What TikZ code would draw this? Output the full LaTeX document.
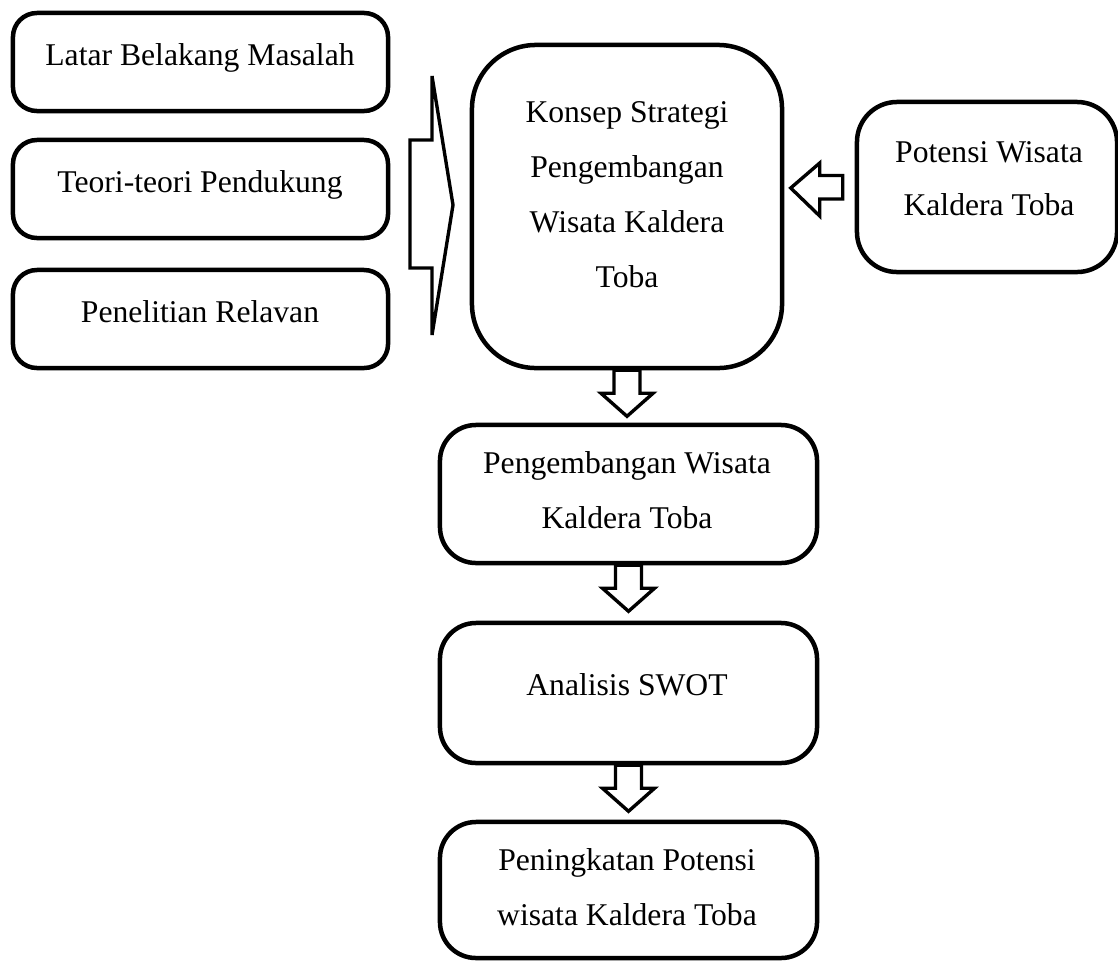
\documentclass[tikz,border=0pt]{standalone}
\usepackage{fontspec}
\setmainfont{Liberation Serif}
\begin{document}
\begin{tikzpicture}[x=0.025cm, y=-0.025cm,
    box/.style={draw, line width=3.2pt, inner sep=0pt},
    txt/.style={font=\fontsize{22.5}{39}\selectfont, align=center, anchor=base, inner sep=0pt},
    blockarrow/.style={draw, line width=2.4pt, line join=miter, fill=white}]
    \useasboundingbox (0,0) rectangle (1118,961);

    % the three boxes on the left
    \node[box, rounded corners=0.6cm, minimum width=9.375cm, minimum height=2.45cm] (latar) at (200.5,62) {};
    \node[txt] (latartext) at (200,65) {Latar Belakang Masalah};
    \node[box, rounded corners=0.6cm, minimum width=9.375cm, minimum height=2.45cm] (teori) at (200.5,189) {};
    \node[txt] (teoritext) at (200,192) {Teori-teori Pendukung};
    \node[box, rounded corners=0.6cm, minimum width=9.375cm, minimum height=2.45cm] (relevan) at (200.5,319) {};
    \node[txt] (relevantext) at (200,322) {Penelitian Relavan};

    % the concept box in the middle (text placed by its last line)
    \node[box, rounded corners=1.6cm, minimum width=7.75cm, minimum height=8.075cm] (konsep) at (627,206.5) {};
    \node[txt] (konseptext) at (627,287) {Konsep Strategi\\ Pengembangan\\ Wisata Kaldera\\ Toba};

    % the potential box on the right
    \node[box, rounded corners=1cm, minimum width=6.5cm, minimum height=4.25cm] (potensi) at (987,187) {};
    \node[txt, font=\fontsize{22.5}{37}\selectfont] (potensitext) at (989,215) {Potensi Wisata\\ Kaldera Toba};

    % the chain of boxes below
    \node[box, rounded corners=0.9cm, minimum width=9.425cm, minimum height=3.45cm] (kembang) at (628.5,494) {};
    \node[txt] (kembangtext) at (627,528) {Pengembangan Wisata\\ Kaldera Toba};
    \node[box, rounded corners=0.9cm, minimum width=9.425cm, minimum height=3.5cm] (swot) at (628.5,693) {};
    \node[txt] (swottext) at (627,695) {Analisis SWOT};
    \node[box, rounded corners=0.9cm, minimum width=9.425cm, minimum height=3.4cm] (tingkat) at (628.5,890) {};
    \node[txt] (tingkattext) at (627,925) {Peningkatan Potensi\\ wisata Kaldera Toba};

    % the big arrow from the left boxes into the concept
    \draw[blockarrow] (432,76) -- (453,205) -- (432,335) -- (432,268) -- (410,268)
        -- (410,140) -- (432,140) -- cycle;

    % the arrow from the potential into the concept
    \draw[blockarrow] (potensi.west) ++(-12,0) -- ++(0,-11.5) -- ++(-23,0) -- ++(0,-12.5)
        -- ++(-29,25) -- ++(29,28) -- ++(0,-17) -- ++(23,0) -- cycle;

    % the arrows down the chain
    \foreach \a/\b in {konsep/kembang, kembang/swot, swot/tingkat}
        \draw[blockarrow] (\a.south) ++(-13,0) -- ++(0,23) -- ++(-13,0)
            -- ++(26,23) -- ++(26,-23) -- ++(-13,0) -- ++(0,-23) -- cycle;
\end{tikzpicture}
\end{document}
